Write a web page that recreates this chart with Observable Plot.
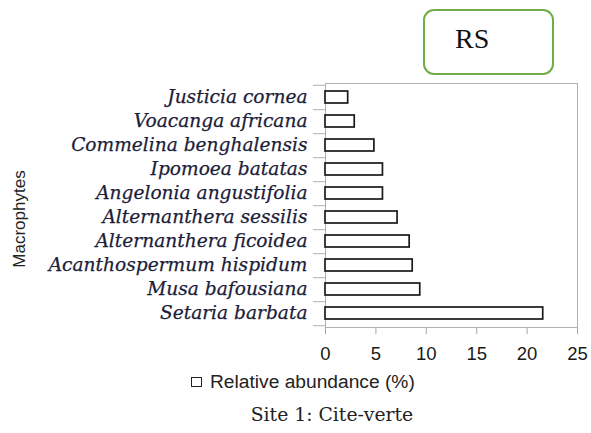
<!DOCTYPE html>
<html>
<head>
<meta charset="utf-8">
<script src="https://cdn.jsdelivr.net/npm/d3@7"></script>
<script src="https://cdn.jsdelivr.net/npm/@observablehq/plot@0.6"></script>
<style>
  html, body { margin: 0; padding: 0; background: white; }
  #wrap { position: relative; width: 591px; height: 433px; overflow: hidden; background: white; }
  #chart svg g[aria-label^="x-axis"] { color: #a8a8a8; }
  #chart svg g[aria-label^="x-axis"] text { fill: #1a1a1a; font-family: "Liberation Sans", Arial, sans-serif; font-size: 18.5px; }
  #chart svg g[aria-label^="y-axis"] text { fill: #1b2038; font-family: "DejaVu Serif", serif; font-style: italic; font-size: 18.6px; stroke: #1b2038; stroke-width: 0.25px; }
  #rs { position: absolute; left: 423px; top: 9px; width: 131px; height: 66px; box-sizing: border-box;
        border: 2.5px solid #70ad47; border-radius: 11px; background: white; }
  #rs span { position: absolute; left: 30px; top: 14px; font-family: "Liberation Serif", "Times New Roman", serif; font-size: 28px; color: #111; line-height: 1; }
  #ylab { position: absolute; left: 18.5px; top: 218.5px; transform: translate(-50%, -50%) rotate(-90deg);
          font-family: "Liberation Sans Narrow", "Arial Narrow", "Liberation Sans", sans-serif; font-size: 17px; color: #222; white-space: nowrap; line-height: 1; }
  #legend { position: absolute; left: 191px; top: 372px; font-family: "Liberation Sans", Arial, sans-serif; font-size: 19.2px; color: #222; white-space: nowrap; line-height: 1; }
  #legend .sw { display: inline-block; width: 9px; height: 8px; border: 1.8px solid #222; margin-right: 8px; vertical-align: 1px; }
  #caption { position: absolute; left: 0; width: 664px; top: 406px; text-align: center; font-family: "DejaVu Serif", serif; font-size: 18.8px; color: #222; white-space: nowrap; line-height: 1; }
</style>
</head>
<body>
<div id="wrap">
  <div id="chart"></div>
  <div id="rs"><span>RS</span></div>
  <div id="ylab">Macrophytes</div>
  <div id="legend"><span class="sw"></span>Relative abundance (%)</div>
  <div id="caption">Site 1: Cite-verte</div>
</div>
<script>
const categories = ["Justicia cornea", "Voacanga africana", "Commelina benghalensis", "Ipomoea batatas",
  "Angelonia angustifolia", "Alternanthera sessilis", "Alternanthera ficoidea", "Acanthospermum hispidum",
  "Musa bafousiana", "Setaria barbata"];
const values = [2.25, 2.9, 4.85, 5.7, 5.7, 7.15, 8.35, 8.65, 9.4, 21.6];
const xTicks = [0, 5, 10, 15, 20, 25];

const data = categories.map((name, i) => ({name, value: values[i]}));

const W = 591, H = 433, mt = 83, mb = 106, ml = 325, mr = 14;
const step = (H - mt - mb) / categories.length;

const chart = Plot.plot({
  width: W, height: H,
  marginTop: mt, marginBottom: mb, marginLeft: ml, marginRight: mr,
  style: {background: "transparent", overflow: "visible"},
  x: {domain: [0, 25], ticks: xTicks, label: null, tickSize: 7, tickPadding: 12.5},
  y: {domain: categories, paddingInner: 0.5, paddingOuter: 0.25, label: null, tickSize: 0, tickPadding: 18},
  marks: [
    Plot.frame({stroke: "#b0b0b0"}),
    Plot.ruleY(categories, {y: d => d, dy: step / 2, x1: -1.2, x2: 0, stroke: "#b0b0b0"}),
    Plot.ruleY(categories.slice(0, 1), {y: d => d, dy: -step / 2, x1: -1.2, x2: 0, stroke: "#b0b0b0"}),
    Plot.barX(data, {x: "value", y: "name", fill: "white", stroke: "#1a1a1a", strokeWidth: 1.7})
  ]
});
document.getElementById("chart").appendChild(chart);
</script>
</body>
</html>
